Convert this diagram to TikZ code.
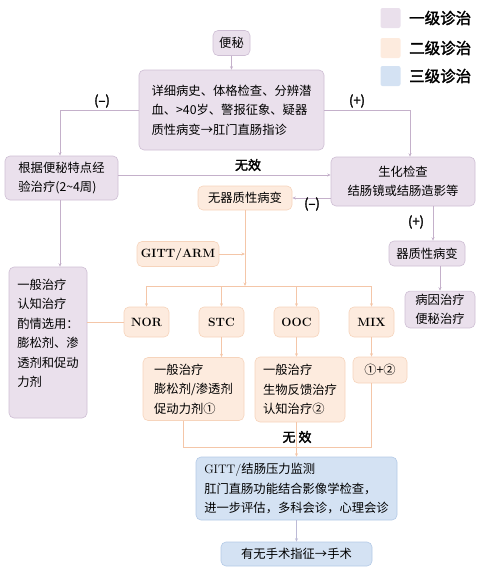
\documentclass[tikz,border=0pt]{standalone}
\usepackage{fontspec}
\usetikzlibrary{arrows.meta}
\newfontfamily\cjk{Noto Sans CJK SC}
\newfontfamily\cjkheavy[FakeBold=2]{Noto Sans CJK SC}
\definecolor{lvonefill}{RGB}{234,224,236}
\definecolor{lvoneline}{RGB}{206,190,212}
\definecolor{lvtwofill}{RGB}{253,235,222}
\definecolor{lvtwoline}{RGB}{246,212,188}
\definecolor{lvthreefill}{RGB}{212,226,243}
\definecolor{lvthreeline}{RGB}{180,202,230}
\definecolor{lvonelink}{RGB}{196,176,202}
\definecolor{lvtwolink}{RGB}{244,198,168}
\definecolor{lvthreelink}{RGB}{188,186,214}

\tikzset{
  box/.style = {rounded corners=5pt, line width=0.6pt, inner sep=3pt,
                font=\cjk\fontsize{12.3}{19.5}\selectfont},
  lvone/.style = {box, draw=lvoneline, fill=lvonefill},
  lvtwo/.style = {box, draw=lvtwoline, fill=lvtwofill},
  lvthree/.style = {box, draw=lvthreeline, fill=lvthreefill},
  latin/.style = {font=\rmfamily\bfseries\fontsize{12}{15}\selectfont},
  link/.style = {line width=0.6pt, -{Stealth[length=3.5pt,width=3pt]}},
  plain/.style = {line width=0.6pt},
  tag/.style = {font=\cjkheavy\fontsize{13}{15}\selectfont},
  legendbox/.style = {rounded corners=2pt, minimum size=20pt, inner sep=0pt},
  legendtext/.style = {anchor=west, inner sep=0pt, font=\cjkheavy\fontsize{15.5}{17}\selectfont}
}

\begin{document}
\begin{tikzpicture}[x=1pt, y=-1pt]
  \useasboundingbox (0,0) rectangle (485,581);

  % legend
  \node[legendbox, fill=lvonefill] (keyone) at (390.5,18) {};
  \node[legendbox, fill=lvtwofill] (keytwo) at (390.5,48) {};
  \node[legendbox, fill=lvthreefill] (keythree) at (390.5,76) {};
  \node[legendtext] (keyonet) at (409,18) {一级诊治};
  \node[legendtext] (keytwot) at (409,48) {二级诊治};
  \node[legendtext] (keythreet) at (409,76) {三级诊治};

  % level one
  \node[lvone, minimum width=37, minimum height=25] (bm) at (231.5,43) {便秘};
  \node[lvone, minimum width=185, minimum height=80, align=left] (main) at (231.5,110)
    {详细病史、体格检查、分辨潜\\血、>40岁、警报征象、疑器\\质性病变→肛门直肠指诊};
  \node[lvone, minimum width=113, minimum height=44, align=left] (jy) at (61.5,178)
    {根据便秘特点经\\验治疗(2\textasciitilde 4周)};
  \node[lvone, minimum width=144, minimum height=49, align=center] (sh) at (403,181.5)
    {生化检查\\结肠镜或结肠造影等};
  \node[lvone, minimum width=76, minimum height=25] (qz) at (427,253.5) {器质性病变};
  \node[lvone, minimum width=70, minimum height=35, align=center] (by) at (440,309.5)
    {病因治疗\\便秘治疗};
  \node[lvone, minimum width=78, minimum height=151, align=left] (ybl) at (48,342.5)
    {一般治疗\\认知治疗\\酌情选用：\\膨松剂、渗\\透剂和促动\\力剂\\};

  % level two
  \node[lvtwo, minimum width=94, minimum height=24] (wq) at (245,198) {无器质性病变};
  \node[lvtwo, latin, minimum width=82, minimum height=25] (gitt) at (178,254) {GITT/ARM};
  \node[lvtwo, latin, minimum width=45, minimum height=30] (nor) at (146.5,322) {NOR};
  \node[lvtwo, latin, minimum width=45, minimum height=30] (stc) at (221.5,322) {STC};
  \node[lvtwo, latin, minimum width=45, minimum height=30] (ooc) at (296.5,322) {OOC};
  \node[lvtwo, latin, minimum width=45, minimum height=30] (mix) at (371.5,322) {MIX};
  \node[lvtwo, minimum width=101, minimum height=63, align=left] (stcbox) at (193.5,389)
    {一般治疗\\膨松剂/渗透剂\\促动力剂①};
  \node[lvtwo, minimum width=90, minimum height=65, align=left] (oocbox) at (300,389.5)
    {一般治疗\\生物反馈治疗\\认知治疗②};
  \node[lvtwo, minimum width=54, minimum height=26] (mixbox) at (380,370) {①+②};

  % level three
  \node[lvthree, minimum width=201, minimum height=63, align=left] (gbox) at (296.5,488.5)
    {{\rmfamily GITT/}结肠压力监测\\肛门直肠功能结合影像学检查，\\进一步评估，多科会诊，心理会诊};
  \node[lvthree, minimum width=151, minimum height=24] (ss) at (296.5,554) {有无手术指征→手术};

  % helper points
  \coordinate (br) at (245,286);
  \coordinate (wx) at (297,447);

  % level one links
  \draw[link, lvonelink] (bm) -- (main);
  \draw[link, lvonelink] (main.west) -| ([xshift=-1.5]jy.north);
  \draw[link, lvonelink] (main.east) -| ([xshift=7]sh.north);
  \draw[link, lvonelink] ([yshift=3]jy.east) -- ([yshift=3]jy.east -| sh.west);
  \draw[link, lvonelink] (sh.west |- wq.east) -- (wq.east);
  \draw[link, lvonelink] ([xshift=30]sh.south) -- ([xshift=30]sh.south |- qz.north);
  \draw[link, lvonelink] (by.north |- qz.south) -- (by.north);
  \draw[link, lvonelink] ([xshift=-1.5]jy.south) -- ([xshift=-1.5]jy.south |- ybl.north);

  % level two links
  \draw[link, lvtwolink] (wq) -- (br);
  \draw[link, lvtwolink] (gitt.east) -- (gitt.east -| br);
  \draw[plain, lvtwolink] (nor.north |- br) -- (mix.north |- br);
  \foreach \n in {nor, stc, ooc, mix}
    \draw[link, lvtwolink] (\n.north |- br) -- (\n.north);
  \draw[plain, lvtwolink] (nor.west) -- (nor.west -| ybl.east);
  \draw[link, lvtwolink] (stc.south) -- (stc.south |- stcbox.north);
  \draw[link, lvtwolink] (ooc.south) -- (ooc.south |- oocbox.north);
  \draw[link, lvtwolink] (mix.south) -- (mix.south |- mixbox.north);
  \draw[plain, lvtwolink] ([xshift=-10.5]stcbox.south) |- (mix.south |- wx) -- (mix.south |- mixbox.south);
  \draw[link, lvtwolink] (ooc.south |- oocbox.south) -- (ooc.south |- gbox.north);

  % level three link
  \draw[link, lvthreelink] (gbox) -- (ss);

  % labels
  \node[tag] (minus) at (102,101) {(–)};
  \node[tag] (plus) at (357,101) {(+)};
  \node[tag] (fail) at (248,165) {无效};
  \node[tag] (minustwo) at (312,204) {(–)};
  \node[tag] (plustwo) at (416,222) {(+)};
  \node[tag] (failtwo) at (297,437) {无\hspace{3pt}效};
\end{tikzpicture}
\end{document}
